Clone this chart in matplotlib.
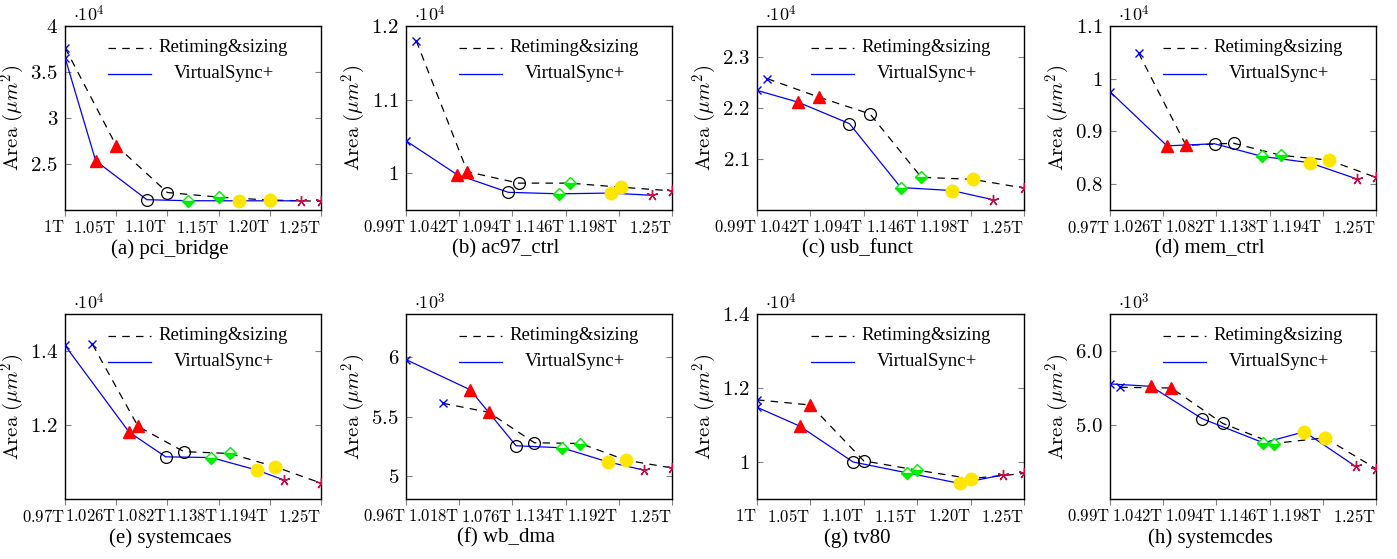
import matplotlib
matplotlib.use('Agg')
import matplotlib.pyplot as plt

plt.rcParams['font.family'] = ['Liberation Serif', 'DejaVu Serif']
plt.rcParams['mathtext.fontset'] = 'cm'

# ---- data (areas shown in units of 10^exp um^2) ----
names = ['(a) pci_bridge', '(b) ac97_ctrl', '(c) usb_funct', '(d) mem_ctrl',
         '(e) systemcaes', '(f) wb_dma', '(g) tv80', '(h) systemcdes']
exponents = [4, 4, 4, 4, 4, 3, 4, 3]

# clock periods of Retiming&sizing are the same for every circuit
rs_x = [1.0, 1.05, 1.10, 1.15, 1.20, 1.25]
rs_y = [
    [3.765, 2.70, 2.19, 2.14, 2.108, 2.095],
    [1.180, 1.002, 0.9865, 0.9865, 0.981, 0.976],
    [2.257, 2.221, 2.188, 2.064, 2.060, 2.043],
    [1.049, 0.873, 0.877, 0.854, 0.845, 0.812],
    [1.418, 1.196, 1.128, 1.123, 1.087, 1.043],
    [5.612, 5.537, 5.281, 5.275, 5.135, 5.070],
    [1.168, 1.154, 1.003, 0.978, 0.955, 0.969],
    [5.509, 5.500, 5.023, 4.750, 4.827, 4.409],
]
vs_x = [
    [1.00, 1.03, 1.08, 1.12, 1.17, 1.23],
    [0.99, 1.04, 1.09, 1.14, 1.19, 1.23],
    [0.99, 1.03, 1.08, 1.13, 1.18, 1.22],
    [0.97, 1.03, 1.08, 1.13, 1.18, 1.23],
    [0.97, 1.04, 1.08, 1.13, 1.18, 1.21],
    [0.96, 1.03, 1.08, 1.13, 1.18, 1.22],
    [1.00, 1.04, 1.09, 1.14, 1.19, 1.23],
    [0.99, 1.03, 1.08, 1.14, 1.18, 1.23],
]
vs_y = [
    [3.657, 2.534, 2.112, 2.101, 2.100, 2.100],
    [1.044, 0.998, 0.974, 0.972, 0.973, 0.970],
    [2.234, 2.211, 2.169, 2.044, 2.038, 2.020],
    [0.975, 0.872, 0.876, 0.852, 0.840, 0.809],
    [1.415, 1.181, 1.114, 1.112, 1.078, 1.051],
    [5.978, 5.725, 5.256, 5.239, 5.121, 5.051],
    [1.148, 1.097, 1.000, 0.971, 0.942, 0.965],
    [5.555, 5.523, 5.086, 4.759, 4.909, 4.441],
]

xt_a = [1.0, 1.05, 1.10, 1.15, 1.20, 1.25]
xl_a = ['1T', '1.05T', '1.10T', '1.15T', '1.20T', '1.25T']
xt_b = [0.99, 1.042, 1.094, 1.146, 1.198, 1.25]
xl_b = ['0.99T', '1.042T', '1.094T', '1.146T', '1.198T', '1.25T']
xt_d = [0.97, 1.026, 1.082, 1.138, 1.194, 1.25]
xl_d = ['0.97T', '1.026T', '1.082T', '1.138T', '1.194T', '1.25T']
xt_f = [0.96, 1.018, 1.076, 1.134, 1.192, 1.25]
xl_f = ['0.96T', '1.018T', '1.076T', '1.134T', '1.192T', '1.25T']
x_ticks = [xt_a, xt_b, xt_b, xt_d, xt_d, xt_f, xt_a, xt_b]
x_labels = [xl_a, xl_b, xl_b, xl_d, xl_d, xl_f, xl_a, xl_b]

y_ticks = [[2.5, 3, 3.5, 4], [1, 1.1, 1.2], [2.1, 2.2, 2.3], [0.8, 0.9, 1, 1.1],
           [1.2, 1.4], [5, 5.5, 6], [1, 1.2, 1.4], [5.0, 6.0]]
y_labels = [['2.5', '3', '3.5', '4'], ['1', '1.1', '1.2'], ['2.1', '2.2', '2.3'],
            ['0.8', '0.9', '1', '1.1'], ['1.2', '1.4'], ['5', '5.5', '6'],
            ['1', '1.2', '1.4'], ['5.0', '6.0']]
y_lims = [(2.0, 4.0), (0.95, 1.2), (2.0, 2.36), (0.75, 1.1),
          (1.0, 1.5), (4.81, 6.36), (0.9, 1.4), (4.0, 6.5)]

# one marker style per timing constraint
marks = [
    dict(marker='x', color='blue', ms=5.5, mew=1.0),
    dict(marker='^', color='red', ms=8.5),
    dict(marker='o', color='black', mfc='none', ms=8.5, mew=0.9),
    dict(marker='D', color='#00ee00', fillstyle='bottom', mfc='#00ee00',
         mfcalt='white', ms=6.5, mew=1.0),
    dict(marker='o', color='#ffe600', ms=9),
    dict(marker=(5, 2, 0), color='#c0104a', ms=8, mew=1.0),
]
dash = (6, 5)

# ---- layout (pixels) ----
W, H = 1397, 559
fig = plt.figure(figsize=(W / 100, H / 100), dpi=100)
cols = [(65, 321), (406, 672), (757, 1024), (1110, 1376)]
rows = [(26, 210), (314, 499)]
cap_shift = [-23, -33, -33, -33]

for k in range(8):
    r, c = divmod(k, 4)
    x0, x1 = cols[c]
    y0, y1 = rows[r]
    wpx, hpx = x1 - x0, y1 - y0
    ax = fig.add_axes([x0 / W, 1 - y1 / H, wpx / W, hpx / H])

    ax.plot(rs_x, rs_y[k], color='black', lw=0.9, dashes=dash, zorder=2)
    ax.plot(vs_x[k], vs_y[k], color='blue', lw=0.9, zorder=2)
    for i, m in enumerate(marks):
        ax.plot(rs_x[i], rs_y[k][i], ls='none', zorder=3, **m)
        ax.plot(vs_x[k][i], vs_y[k][i], ls='none', zorder=3, **m)

    ax.set_xlim(x_ticks[k][0], x_ticks[k][-1])
    ax.set_ylim(*y_lims[k])
    ax.set_xticks(x_ticks[k])
    # labels sit just left of their tick, as in the original
    ax.set_xticklabels([r'$\mathrm{%s}$' % s for s in x_labels[k]], ha='right')
    ax.set_yticks(y_ticks[k])
    ax.set_yticklabels([r'$%s$' % s for s in y_labels[k]])
    ax.tick_params(axis='y', direction='in', left=True, right=True, length=4.5,
                   width=0.8, color='gray', labelsize=15, pad=5)
    ax.tick_params(axis='x', direction='out', top=False, length=4.5,
                   width=0.8, color='gray', labelsize=12, pad=3)
    for s in ax.spines.values():
        s.set_linewidth(1.0)

    ax.set_ylabel(r'$\mathrm{Area}\ (\mu m^2)$', fontsize=15)
    ax.yaxis.set_label_coords(-38 / wpx, 0.5)
    ax.text(8 / wpx, 1 + 4.5 / hpx, r'$\cdot 10^{%d}$' % exponents[k],
            transform=ax.transAxes, fontsize=13, ha='left', va='baseline')
    ax.text(0.5 + cap_shift[c] / wpx, -39 / hpx, names[k], transform=ax.transAxes,
            fontsize=15, ha='center', va='center')

    # legend, text centred like pgfplots
    for j, (lab, st) in enumerate([('Retiming&sizing', dict(color='black', lw=0.9, dashes=dash)),
                                   ('VirtualSync+', dict(color='blue', lw=0.9))]):
        ly = 1 - (21.5 + 26.5 * j) / hpx
        ax.plot([1 - 213 / wpx, 1 - 170 / wpx], [ly, ly], transform=ax.transAxes,
                clip_on=False, **st)
        ax.text(1 - 97.5 / wpx, ly, lab, transform=ax.transAxes, fontsize=13.5,
                ha='center', va='center')

fig.savefig('out.png', dpi=100)
